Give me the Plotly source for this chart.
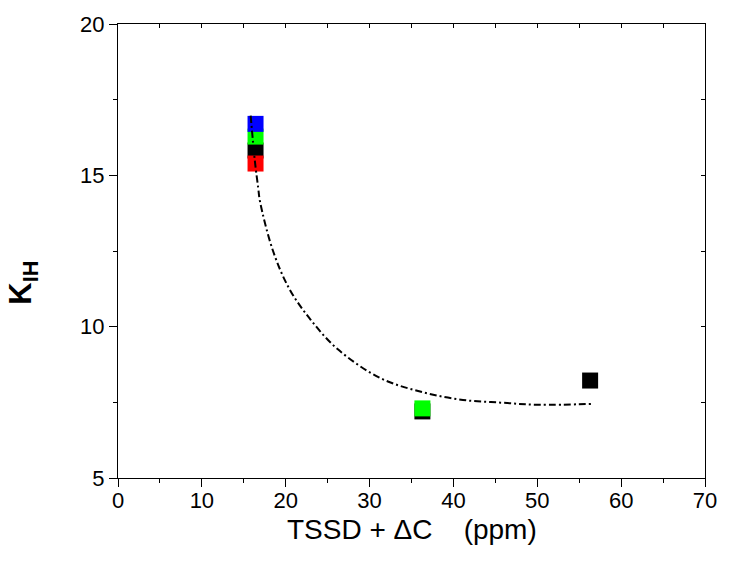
import plotly.graph_objects as go

# Data
black_x = [16.4, 36.3, 56.3]
black_y = [15.82, 7.20, 8.22]
red_x = [16.4]
red_y = [15.39]
green_x = [16.4, 36.3]
green_y = [16.28, 7.30]
blue_x = [16.4]
blue_y = [16.70]

curve_x = [15.82, 16.33, 16.73, 16.93, 18.50, 20.47, 23.00, 26.18, 31.29, 36.40, 41.13, 45.65, 50.15, 56.67]
curve_y = [16.97, 15.45, 14.56, 14.14, 12.49, 11.23, 10.22, 9.26, 8.30, 7.83, 7.58, 7.49, 7.42, 7.45]

x_range = [0, 70]
y_range = [5, 20]
x_title = "TSSD + ΔC&nbsp;&nbsp;&nbsp;&nbsp;(ppm)"
y_title = "<b>K<sub>IH</sub></b>"

FONT = "Liberation Sans, Arial, sans-serif"
msize = 16

fig = go.Figure()
for xs, ys, col in [(black_x, black_y, "#000000"), (red_x, red_y, "#FF0000"),
                    (green_x, green_y, "#00FF00"), (blue_x, blue_y, "#0000FF")]:
    fig.add_trace(go.Scatter(x=xs, y=ys, mode="markers",
                             marker=dict(symbol="square", size=msize, color=col, line=dict(width=0)),
                             showlegend=False))
fig.add_trace(go.Scatter(x=curve_x, y=curve_y, mode="lines",
                         line=dict(color="black", width=2, dash="7px,3px,2px,3px",
                                   shape="spline", smoothing=1.0),
                         showlegend=False))
# helper trace for mirrored axes
fig.add_trace(go.Scatter(x=[], y=[], xaxis="x2", yaxis="y2", showlegend=False, hoverinfo="skip"))

axis_common = dict(showgrid=False, zeroline=False, showline=True, linecolor="black", linewidth=1.3,
                   tickcolor="black", tickwidth=1.3, autorange=False)

fig.update_layout(
    width=729, height=570,
    margin=dict(l=118, r=18, t=22, b=92),
    paper_bgcolor="white", plot_bgcolor="white",
    font=dict(family=FONT, color="black"),
    xaxis=dict(range=x_range, dtick=10, tick0=0, ticks="outside", ticklen=8,
               minor=dict(dtick=5, ticks="outside", ticklen=4, tickcolor="black", tickwidth=1.3),
               tickfont=dict(size=22, family=FONT), ticklabelstandoff=-6,
               **axis_common),
    yaxis=dict(range=y_range, dtick=5, tick0=0, ticks="outside", ticklen=8,
               minor=dict(dtick=2.5, ticks="outside", ticklen=4, tickcolor="black", tickwidth=1.3),
               tickfont=dict(size=22, family=FONT),
               **axis_common),
    xaxis2=dict(range=x_range, overlaying="x", side="top", anchor="y", dtick=5, tick0=0,
                ticks="inside", ticklen=4, showticklabels=False, **axis_common),
    yaxis2=dict(range=y_range, overlaying="y", side="right", anchor="x", dtick=2.5, tick0=0,
                ticks="inside", ticklen=4, showticklabels=False, **axis_common),
    annotations=[
        dict(text=x_title, xref="paper", yref="paper", x=0.5, y=-0.114,
             xanchor="center", yanchor="middle", showarrow=False,
             font=dict(size=28, family=FONT, color="black")),
        dict(text=y_title, xref="paper", yref="paper", x=-0.162, y=0.43,
             xanchor="center", yanchor="middle", showarrow=False, textangle=-90,
             font=dict(size=31, family=FONT, color="black")),
    ],
)

fig.write_html("out.html", config={"displayModeBar": False},
               post_script="document.body.style.margin='0';document.documentElement.style.overflow='hidden';")
